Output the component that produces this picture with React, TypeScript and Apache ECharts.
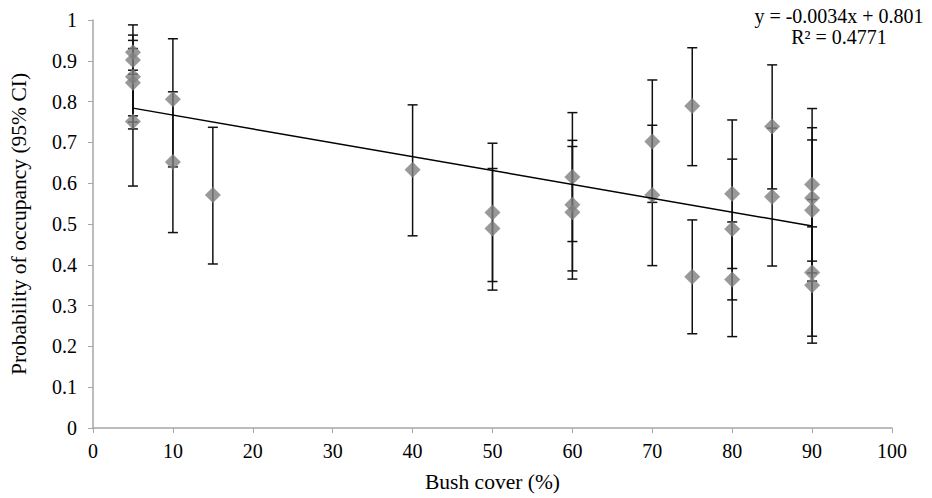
import React, { useEffect, useRef } from "react";
import * as echarts from "echarts";

const bushCover = [5, 5, 5, 5, 5, 10, 10, 15, 40, 50, 50, 60, 60, 60, 70, 70, 75, 75, 80, 80, 80, 85, 85, 90, 90, 90, 90, 90];
const occupancy = [0.921, 0.902, 0.861, 0.846, 0.751, 0.806, 0.652, 0.571, 0.633, 0.528, 0.489, 0.615, 0.547, 0.529, 0.702, 0.571, 0.789, 0.371, 0.574, 0.488, 0.364, 0.739, 0.567, 0.597, 0.564, 0.534, 0.381, 0.35];
const lowerCI = [0.877, 0.765, 0.733, 0.75, 0.593, 0.64, 0.479, 0.402, 0.471, 0.359, 0.338, 0.457, 0.385, 0.365, 0.553, 0.398, 0.643, 0.231, 0.391, 0.314, 0.224, 0.586, 0.397, 0.409, 0.38, 0.36, 0.225, 0.208];
const upperCI = [0.963, 0.988, 0.95, 0.93, 0.867, 0.954, 0.824, 0.737, 0.792, 0.698, 0.636, 0.773, 0.705, 0.69, 0.853, 0.742, 0.932, 0.51, 0.755, 0.659, 0.505, 0.89, 0.735, 0.783, 0.736, 0.706, 0.56, 0.493];

const trendSlope = -0.0034;
const trendIntercept = 0.801;
const trendRange = [5, 90];
const equationLines = ["y = -0.0034x + 0.801", "R² = 0.4771"];

const FONT = "'Liberation Serif', 'DejaVu Serif', serif";

export default function App() {
  const ref = useRef<HTMLDivElement>(null);
  useEffect(() => {
    if (!ref.current) return;
    const chart = echarts.init(ref.current, null, { renderer: "svg" });
    const errData = bushCover.map((x, i) => [x, lowerCI[i], upperCI[i]]);
    const ptData = bushCover.map((x, i) => [x, occupancy[i]]);
    const trendData = trendRange.map((x) => [x, trendSlope * x + trendIntercept]);
    chart.setOption({
      animation: false,
      backgroundColor: "#ffffff",
      grid: { left: 92, right: 40, top: 20, bottom: 69, containLabel: false },
      xAxis: {
        type: "value",
        min: 0,
        max: 100,
        interval: 10,
        name: "Bush cover (%)",
        nameLocation: "middle",
        nameGap: 43,
        nameTextStyle: { fontFamily: FONT, fontSize: 21.5, color: "#000" },
        axisLine: { show: true, lineStyle: { color: "#a6a6a6", width: 1.5 } },
        axisTick: { show: true, length: 5, lineStyle: { color: "#a6a6a6" } },
        axisLabel: { fontFamily: FONT, fontSize: 20, color: "#000", margin: 13 },
        splitLine: { show: false },
      },
      yAxis: {
        type: "value",
        min: 0,
        max: 1,
        interval: 0.1,
        name: "Probability of occupancy (95% CI)",
        nameLocation: "middle",
        nameGap: 63,
        nameTextStyle: { fontFamily: FONT, fontSize: 21.5, color: "#000" },
        axisLine: { show: true, lineStyle: { color: "#a6a6a6", width: 1.5 } },
        axisTick: { show: true, length: 5, lineStyle: { color: "#a6a6a6" } },
        axisLabel: {
          fontFamily: FONT,
          fontSize: 20,
          color: "#000",
          margin: 16,
          formatter: (v: number) => String(Math.round(v * 10) / 10),
        },
        splitLine: { show: false },
      },
      graphic: [
        {
          type: "text",
          x: 839,
          y: 6,
          style: {
            text: equationLines[0],
            fontFamily: FONT,
            fontSize: 20,
            fill: "#000",
            textAlign: "center",
          },
        },
        {
          type: "text",
          x: 839,
          y: 27,
          style: {
            text: equationLines[1],
            fontFamily: FONT,
            fontSize: 20,
            fill: "#000",
            textAlign: "center",
          },
        },
      ],
      series: [
        {
          type: "custom",
          data: errData,
          z: 2,
          renderItem: (params: any, api: any) => {
            const x = api.value(0);
            const lo = api.coord([x, api.value(1)]);
            const hi = api.coord([x, api.value(2)]);
            const w = 5;
            const style = { stroke: "#111", lineWidth: 1.5 };
            return {
              type: "group",
              children: [
                { type: "line", shape: { x1: lo[0], y1: lo[1], x2: hi[0], y2: hi[1] }, style },
                { type: "line", shape: { x1: lo[0] - w, y1: lo[1], x2: lo[0] + w, y2: lo[1] }, style },
                { type: "line", shape: { x1: hi[0] - w, y1: hi[1], x2: hi[0] + w, y2: hi[1] }, style },
              ],
            };
          },
        },
        {
          type: "scatter",
          data: ptData,
          symbol: "diamond",
          symbolSize: 16,
          z: 3,
          itemStyle: { color: "#7f7f7f" },
        },
        {
          type: "line",
          data: trendData,
          symbol: "none",
          z: 4,
          lineStyle: { color: "#000", width: 1.5 },
        },
      ],
    });
    return () => chart.dispose();
  }, []);
  return <div ref={ref} style={{ width: 932, height: 498, position: "absolute", left: 0, top: 0 }} />;
}
